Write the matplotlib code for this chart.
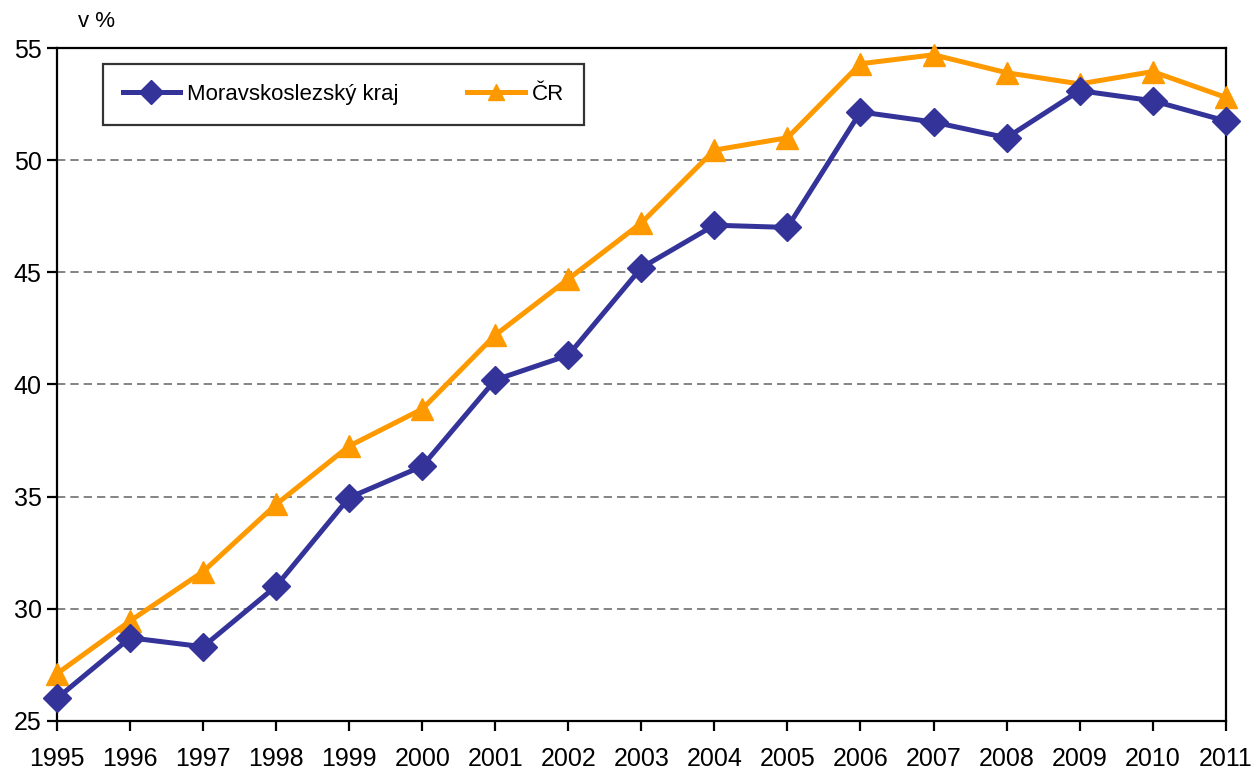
import matplotlib
matplotlib.use("Agg")
import matplotlib.pyplot as plt
from matplotlib import font_manager as fm

years = list(range(1995, 2012))
msk = [26.0, 28.7, 28.3, 31.0, 34.95, 36.35, 40.2, 41.3, 45.2, 47.1, 47.0,
       52.15, 51.7, 51.0, 53.1, 52.65, 51.75]
cr = [27.1, 29.45, 31.65, 34.65, 37.25, 38.9, 42.2, 44.7, 47.2, 50.45, 51.0,
      54.3, 54.7, 53.9, 53.4, 53.95, 52.8]
yticks = [25, 30, 35, 40, 45, 50, 55]
label_msk = "Moravskoslezský kraj"
label_cr = "ČR"
unit_label = "v %"

names = {f.name for f in fm.fontManager.ttflist}
fam = [f for f in ["Liberation Sans Narrow", "Liberation Sans", "DejaVu Sans"] if f in names]
plt.rcParams['font.family'] = fam

fig = plt.figure(figsize=(12.52, 7.75), dpi=100)
ax = fig.add_axes([0.0455, 0.070, 0.9335, 0.868])

ax.plot(years, cr, color="#FF9900", lw=3.6, marker="^", ms=16, mec="#FF9900", mfc="#FF9900",
        label=label_cr, zorder=3, clip_on=False)
ax.plot(years, msk, color="#333399", lw=3.6, marker="D", ms=14, mec="#333399", mfc="#333399",
        label=label_msk, zorder=4, clip_on=False)

ax.set_xlim(1995, 2011)
ax.set_ylim(25, 55)
ax.set_xticks(years)
ax.set_yticks(yticks)
for v in yticks[1:-1]:
    ax.axhline(v, color="#707070", lw=1.2, ls=(0, (5, 3)), zorder=1)

for s in ax.spines.values():
    s.set_linewidth(1.6)
    s.set_color("black")

ax.tick_params(axis='both', direction='out', length=7, width=1.6, labelsize=18, colors='black')
ax.tick_params(axis='x', pad=12)
ax.tick_params(axis='y', pad=4)

handles, labels = ax.get_legend_handles_labels()
leg = ax.legend([handles[1], handles[0]], [labels[1], labels[0]], loc='upper left',
                bbox_to_anchor=(0.039, 0.977), ncol=2, fontsize=16, frameon=True,
                fancybox=False, edgecolor='black', handlelength=2.6, columnspacing=3.1,
                borderpad=0.9, handletextpad=0.3, borderaxespad=0)
leg.get_frame().set_linewidth(1.6)
for h in leg.get_lines():
    h.set_markersize(12)
    h.set_linewidth(3.6)

fig.text(0.062, 0.972, unit_label, fontsize=16, ha='left', va='center')

fig.savefig("out.png", dpi=100)
